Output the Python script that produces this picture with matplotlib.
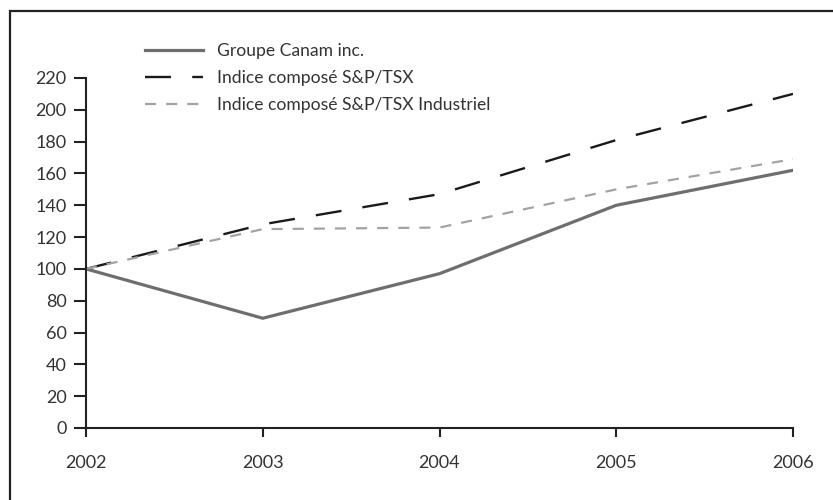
import matplotlib
matplotlib.use("Agg")
import matplotlib.pyplot as plt
import matplotlib.patches as patches

plt.rcParams['font.family'] = ['Lato', 'DejaVu Sans']

years = [2002, 2003, 2004, 2005, 2006]
canam = [100, 69, 97, 140, 162]
tsx = [100, 128, 147, 181, 210]
tsx_ind = [100, 125, 126, 150, 169]
labels = ["Groupe Canam inc.", "Indice composé S&P/TSX", "Indice composé S&P/TSX Industriel"]
yticks = list(range(0, 221, 20))

fig = plt.figure(figsize=(8.33, 5), dpi=100)
ax = fig.add_axes([86/833, 1-428/500, (793-86)/833, (428-78)/500])

ax.plot(years, canam, color='#6e6e70', lw=2.3, label=labels[0], solid_joinstyle='miter')
ax.plot(years, tsx, color='#1a1a1a', lw=1.7, dashes=(11, 9), label=labels[1])
ax.plot(years, tsx_ind, color='#a3a3a5', lw=1.6, dashes=(5, 4.5), label=labels[2])

ax.set_xlim(2002, 2006)
ax.set_ylim(0, 220)
ax.set_xticks(years)
ax.set_yticks(yticks)
for s in ['top', 'right']:
    ax.spines[s].set_visible(False)
for s in ['left', 'bottom']:
    ax.spines[s].set_linewidth(1.5)
    ax.spines[s].set_color('#222222')
ax.tick_params(axis='both', direction='out', width=1.5, color='#222222',
               labelsize=13, labelcolor='#333333')
ax.tick_params(axis='y', length=8.5, pad=5.5)
ax.tick_params(axis='x', length=6.5, pad=13)

leg = ax.legend(loc='upper left', bbox_to_anchor=(145/833, 1-43/500), bbox_transform=fig.transFigure,
                frameon=False, fontsize=12.6, handlelength=3.3, handletextpad=0.8,
                labelspacing=0.63, borderpad=0, borderaxespad=0)
for t in leg.get_texts():
    t.set_color('#333333')

# frame around figure (open on right / bottom, cut by image edge)
frame = patches.Rectangle((10/833, -0.1), 1.2, 1-11/500+0.1, transform=fig.transFigure,
                          fill=False, lw=1.6, edgecolor='#222222', clip_on=False)
fig.patches.append(frame)

fig.savefig('out.png', dpi=100)
